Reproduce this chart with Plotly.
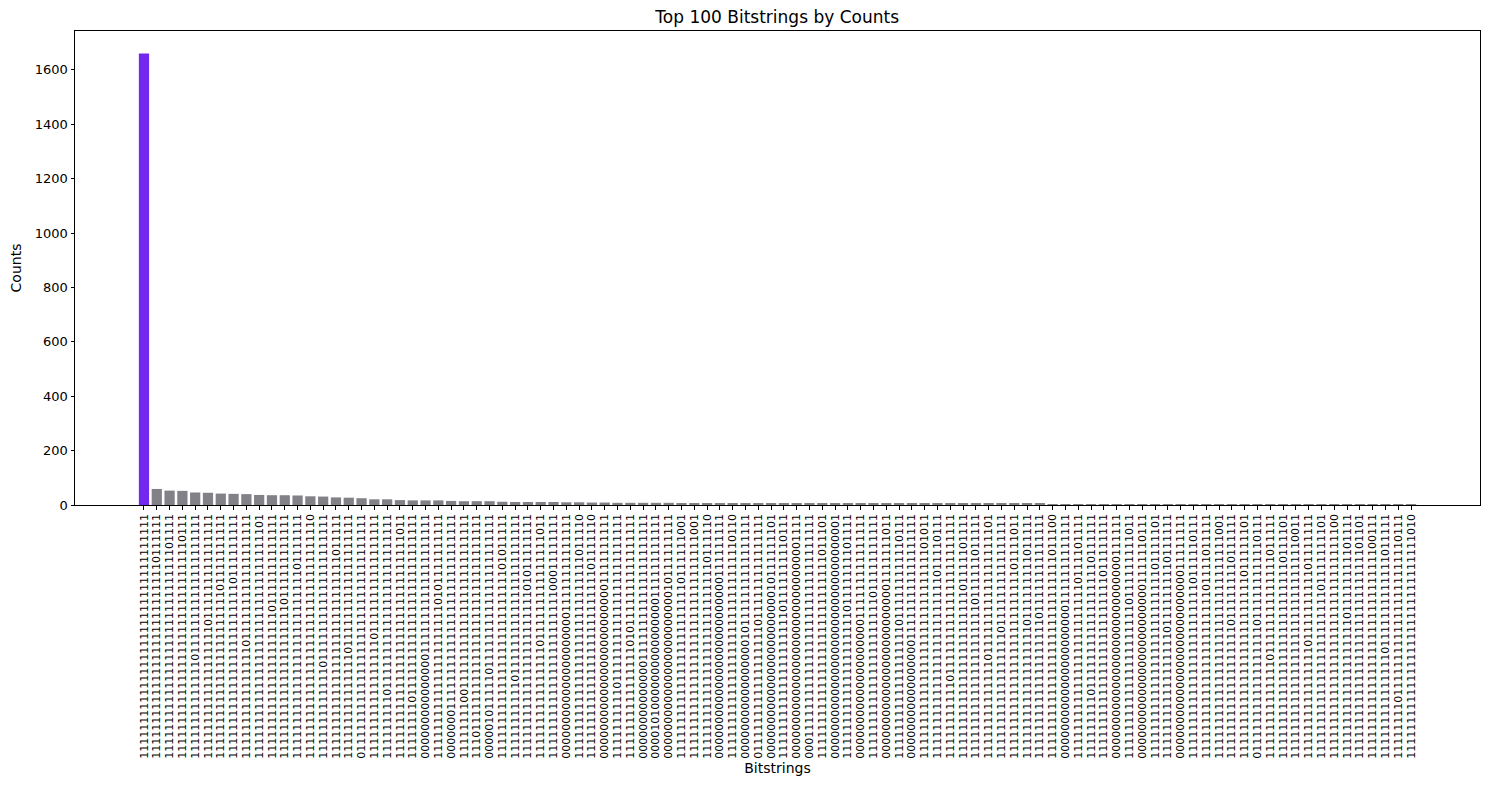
import plotly.graph_objects as go

bitstrings = [
    "11111111111111111111111111111111111",
    "11111111111111111111111111110111111",
    "11111111111111111111111111111101111",
    "11111111111111111111111111111110111",
    "11111111111111011111111111111111111",
    "11111111111111111110111111111111111",
    "11111111111111111111111101111111111",
    "11111111111111111111111110111111111",
    "11111111111111110111111111111111111",
    "11111111111111111111111111111111101",
    "11111111111111111111101111111111111",
    "11111111111111111111110111111111111",
    "11111111111111111111111111101111111",
    "11111111111111111111111111111111110",
    "11111111111110111111111111111111111",
    "11111111111111111111111111111011111",
    "11111111111111101111111111111111111",
    "01111111111111111111111111111111111",
    "11111111111111111011111111111111111",
    "11111111101111111111111111111111111",
    "11111111111111111111111111111111011",
    "11111111011111111111111111111111111",
    "00000000000000011111111111111111111",
    "11111111111111111111110101111111111",
    "00000001111111111111111111111111111",
    "11111111001111111111111111111111111",
    "11101111111111111111111111111111111",
    "00000101111101111111111111111111111",
    "11111111111111111111111111101011111",
    "11111111111011111111111111111111111",
    "11111111111111111111111101011111111",
    "11111111111111110111111111111111011",
    "11111111111111111111111100011111111",
    "00000000000000000000011111111111111",
    "11111111111111111111111111111011110",
    "11111111111111111111111111101111110",
    "00000000000000000000000001111111111",
    "11111111110111111111111111111111111",
    "11111111111111110101111111111111111",
    "00000000000000111111111111111111111",
    "00001010000000000000000111111111111",
    "00000000000000000000000010111111111",
    "11111111111111111111111110111111001",
    "11111111111111111111111111111111001",
    "11111111111111111111111111110111110",
    "00000000000000000000000000111111111",
    "11111111111111111111111111111110110",
    "00000000000000000101111111111111111",
    "01111111111111111110111111111111111",
    "00000000000000000000000010111111101",
    "11111111111111111111101111111110111",
    "00000000000000000000000000000001111",
    "00011111111111111111111111111111111",
    "11111111111111111111111111111011101",
    "00000000000000000000000000000000001",
    "11111111111111111111101111111101111",
    "00000000000000000000111111111111111",
    "11111111111111111111111011111111111",
    "00000000000000000000000001111111011",
    "11111111111111111110111111111110111",
    "00000000000000000111111111111111111",
    "11111111111111111111111111111101011",
    "11111111111111111111111111011110111",
    "11111111111011111111111111111111111",
    "11111111111111111111111101111101111",
    "11111111111111111111110111111011111",
    "11111111111111011111111111111111101",
    "11111111111111111101111111111111111",
    "11111111111111111111111111101111011",
    "11111111111111111110111111111011111",
    "11111111111111111111011111111111111",
    "11111111111111111111111111111011100",
    "00000000000000000000001111111111111",
    "11111111111111111111111110111101111",
    "11111111101111111111111111110111111",
    "11111111111111111111111111011111111",
    "00000000000000000000000000000111111",
    "11111111111111111111110111111111011",
    "00000000000000000000000001111110111",
    "11111111111111111111111111101111101",
    "11111111111111111101111111110111111",
    "00000000000000000000000000011111111",
    "11111111111111111111111110111110111",
    "11111111111111111111111101111011111",
    "11111111111111111111111111111111001",
    "11111111111111111110111111110111111",
    "11111111111111111111111111011111101",
    "01111111111111111110111111111110111",
    "11111111111111011111111111111011111",
    "11111111111111111111111111110111101",
    "11111111111111111111111111111110011",
    "11111111111111110111111111101111111",
    "11111111111111111111111101111111101",
    "11111111111111111111111111111111100",
    "11111111111111111111011111111101111",
    "11111111111111111111111111111101101",
    "11111111111111111111111111111100111",
    "11111111111111101111111111111011111",
    "11111111011111111111111111111110111",
    "11111111111111111111111111111111010",
]

counts = [
    1660, 59, 53, 52, 46, 45, 42, 41, 40, 37,
    36, 36, 35, 32, 31, 28, 27, 25, 21, 21,
    18, 17, 17, 17, 15, 14, 14, 14, 12, 11,
    11, 11, 11, 10, 10, 9, 9, 8, 8, 8,
    8, 8, 7, 7, 7, 7, 7, 6, 6, 6,
    6, 6, 6, 5, 5, 5, 5, 5, 5, 5,
    5, 5, 4, 4, 4, 4, 4, 4, 4, 4,
    4, 3, 3, 3, 3, 3, 3, 3, 3, 3,
    3, 3, 3, 3, 3, 3, 3, 3, 3, 3,
    3, 3, 3, 3, 3, 3, 3, 3, 3, 3,
]

top_color = "#7328F0"
rest_color = "#828187"
colors = [top_color] + [rest_color] * (len(counts) - 1)
positions = list(range(len(bitstrings)))

fig = go.Figure(
    go.Bar(
        x=positions,
        y=counts,
        marker=dict(color=colors, line=dict(width=0)),
        width=0.8,
    )
)

font_family = "DejaVu Sans"
fig.update_layout(
    width=1490,
    height=790,
    margin=dict(l=75, r=10, t=31, b=285),
    paper_bgcolor="white",
    plot_bgcolor="white",
    font=dict(family=font_family, color="black", size=13),
    showlegend=False,
    title=dict(
        text="Top 100 Bitstrings by Counts",
        x=0.5216,
        xanchor="center",
        y=1 - 17 / 790,
        yanchor="middle",
        yref="container",
        font=dict(size=17, family=font_family, color="black"),
    ),
)

fig.update_xaxes(
    range=[-5.39, 104.39],
    tickmode="array",
    tickvals=positions,
    ticktext=bitstrings,
    tickangle=-90,
    tickfont=dict(size=11, family=font_family, color="black"),
    ticks="outside",
    ticklen=3.5,
    tickwidth=1,
    tickcolor="black",
    showline=True,
    linecolor="black",
    linewidth=1,
    mirror=True,
    showgrid=False,
    zeroline=False,
    automargin=False,
    title=dict(text="Bitstrings", font=dict(size=14, family=font_family), standoff=5),
)

fig.update_yaxes(
    range=[0, 1743],
    dtick=200,
    tick0=0,
    tickfont=dict(size=13, family=font_family, color="black"),
    ticks="outside",
    ticklen=3.5,
    tickwidth=1,
    tickcolor="black",
    showline=True,
    linecolor="black",
    linewidth=1,
    mirror=True,
    showgrid=False,
    zeroline=False,
    automargin=False,
    title=dict(text="Counts", font=dict(size=14, family=font_family), standoff=9),
)

fig.write_html(
    "out.html",
    config={"displayModeBar": False},
    post_script="document.body.style.margin='0px';document.body.style.overflow='hidden';",
)
